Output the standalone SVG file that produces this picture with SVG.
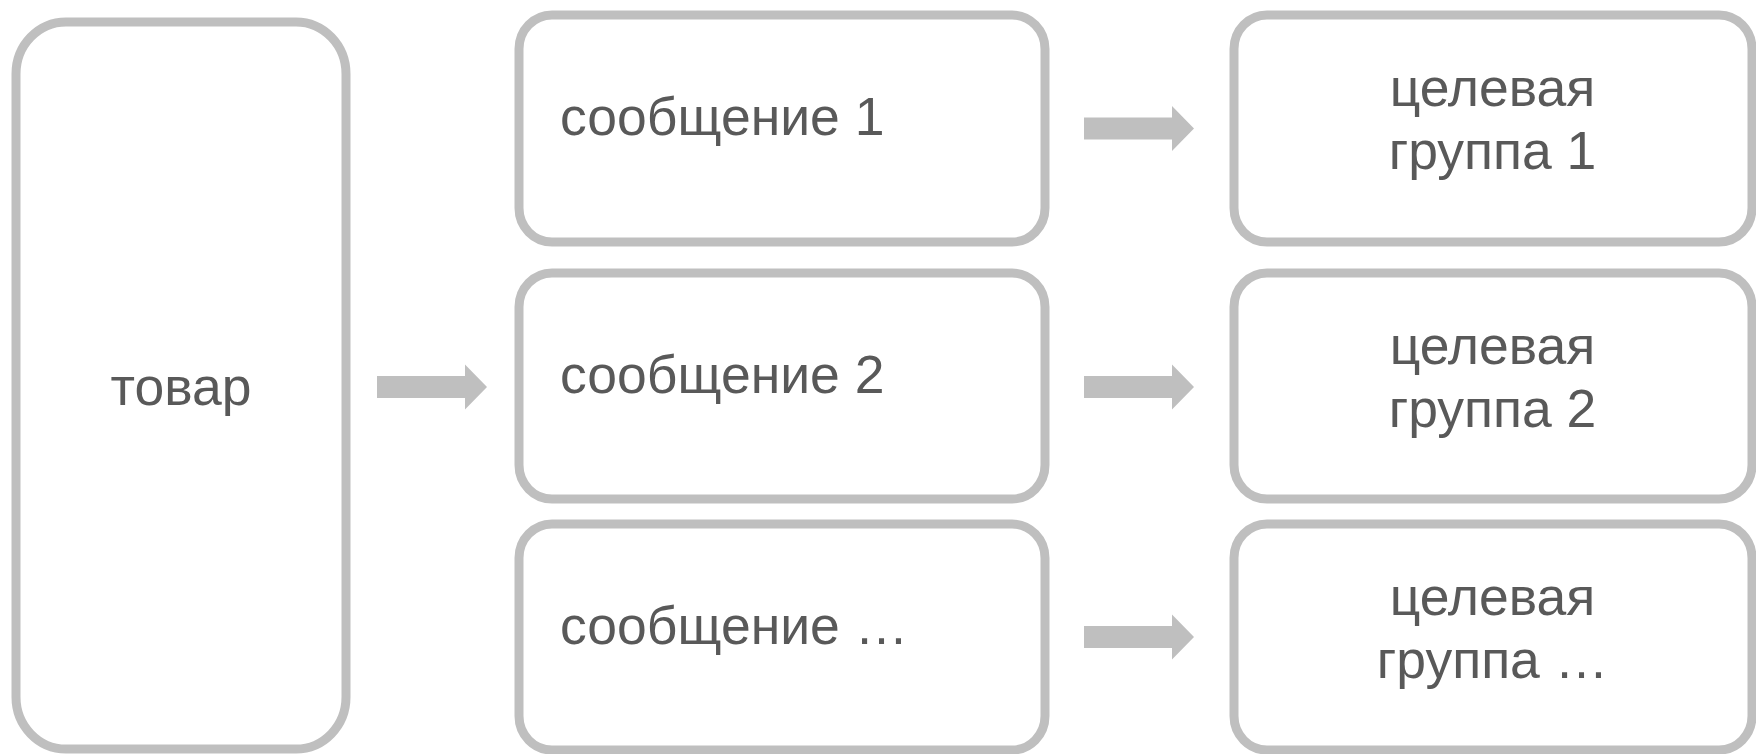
<svg xmlns="http://www.w3.org/2000/svg" width="1756" height="754" viewBox="0 0 1756 754">
<style>
.box{fill:#ffffff;stroke:#bfbfbf;stroke-width:9}
.t{font-family:"Liberation Sans",Arial,sans-serif;font-size:53.5px;fill:#595959}
.c{text-anchor:middle}
.arr{fill:#bfbfbf}
</style>
<rect width="1756" height="754" fill="#ffffff"/>
<g id="node-tovar">
<rect class="box" x="16" y="22" width="330" height="727" rx="50" ry="52"/>
<text class="t c" x="181" y="405">товар</text>
</g>
<g id="node-msg1">
<rect class="box" x="519" y="15" width="526" height="227" rx="33" ry="34"/>
<text class="t" x="560" y="135">сообщение 1</text>
</g>
<g id="node-msg2">
<rect class="box" x="519" y="273" width="526" height="226" rx="33" ry="34"/>
<text class="t" x="560" y="393">сообщение 2</text>
</g>
<g id="node-msg3">
<rect class="box" x="519" y="524" width="526" height="226" rx="33" ry="34"/>
<text class="t" x="560" y="644">сообщение …</text>
</g>
<g id="node-grp1">
<rect class="box" x="1234" y="15" width="518" height="227" rx="33" ry="34"/>
<text class="t c" x="1492.5" y="106">целевая</text>
<text class="t c" x="1492.5" y="169">группа 1</text>
</g>
<g id="node-grp2">
<rect class="box" x="1234" y="273" width="518" height="226" rx="33" ry="34"/>
<text class="t c" x="1492.5" y="364">целевая</text>
<text class="t c" x="1492.5" y="427">группа 2</text>
</g>
<g id="node-grp3">
<rect class="box" x="1234" y="524" width="518" height="226" rx="33" ry="34"/>
<text class="t c" x="1492.5" y="615">целевая</text>
<text class="t c" x="1492.5" y="678">группа …</text>
</g>
<g id="connectors">
<polygon class="arr" points="377,376 465,376 465,364.5 487,387 465,409.5 465,398 377,398"/>
<polygon class="arr" points="1084,117.5 1172,117.5 1172,106 1194,128.5 1172,151 1172,139.5 1084,139.5"/>
<polygon class="arr" points="1084,376 1172,376 1172,364.5 1194,387 1172,409.5 1172,398 1084,398"/>
<polygon class="arr" points="1084,626 1172,626 1172,614.5 1194,637 1172,659.5 1172,648 1084,648"/>
</g>
</svg>
